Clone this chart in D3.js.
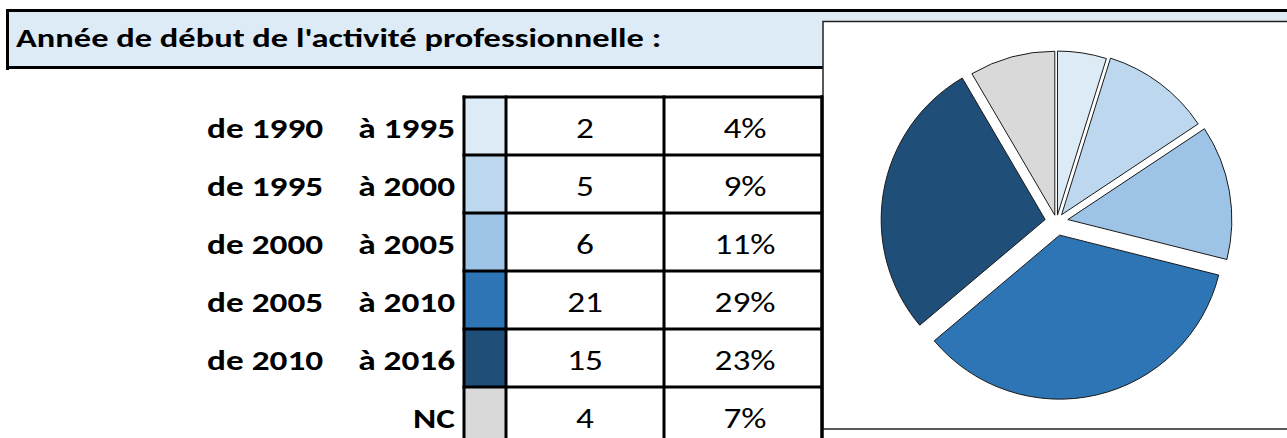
<!DOCTYPE html>
<html>
<head>
<meta charset="utf-8">
<script src="https://cdn.jsdelivr.net/npm/d3@7"></script>
<style>
body { margin: 0; background: #fff; }
svg { display: block; }
text { font-family: Carlito, Calibri, Lato, sans-serif; }
</style>
</head>
<body>
<svg id="chart" width="1287" height="438"></svg>
<script>
const title = "Année de début de l'activité professionnelle :";
const fromLabels = ["de 1990", "de 1995", "de 2000", "de 2005", "de 2010", ""];
const toLabels = ["à 1995", "à 2000", "à 2005", "à 2010", "à 2016", "NC"];
const counts = [2, 5, 6, 21, 15, 4];
const percents = [4, 9, 11, 29, 23, 7];
const colors = ["#DDEBF7", "#BDD7EE", "#9DC3E6", "#2E75B6", "#1F4E79", "#D9D9D9"];

const svg = d3.select("#chart");
const W = 1287, H = 438;
const sx = 1.26; // the sheet text is wider than the fallback font

// header band
svg.append("rect")
  .attr("x", 7.5).attr("y", 10.5)
  .attr("width", W).attr("height", 57)
  .attr("fill", "#DDEBF7");
svg.append("line")
  .attr("x1", 6).attr("x2", W).attr("y1", 10.5).attr("y2", 10.5)
  .attr("stroke", "#000").attr("stroke-width", 3);
svg.append("line")
  .attr("x1", 7.5).attr("x2", 7.5).attr("y1", 9).attr("y2", 70)
  .attr("stroke", "#000").attr("stroke-width", 3);
svg.append("line")
  .attr("x1", 6).attr("x2", 823).attr("y1", 67.5).attr("y2", 67.5)
  .attr("stroke", "#000").attr("stroke-width", 3);

svg.append("text")
  .attr("transform", `translate(16,47) scale(1.3,1)`)
  .attr("font-size", 26.5).attr("font-weight", "bold")
  .attr("fill", "#000")
  .text(title);

// table
const rows = d3.range(counts.length);
const y = d3.scaleBand().domain(rows).range([97, 97 + 58 * rows.length]);
const cols = [464, 506, 664, 822];

svg.selectAll(".swatch")
  .data(rows)
  .join("rect")
  .attr("class", "swatch")
  .attr("x", cols[0]).attr("y", d => y(d))
  .attr("width", cols[1] - cols[0]).attr("height", y.bandwidth())
  .attr("fill", d => colors[d]);

svg.selectAll(".hline")
  .data(rows)
  .join("line")
  .attr("class", "hline")
  .attr("x1", cols[0] - 1.5).attr("x2", cols[3] + 1.5)
  .attr("y1", d => y(d)).attr("y2", d => y(d))
  .attr("stroke", "#000").attr("stroke-width", 3);

svg.selectAll(".vline")
  .data(cols)
  .join("line")
  .attr("class", "vline")
  .attr("x1", d => d).attr("x2", d => d)
  .attr("y1", y(0) - 1.5).attr("y2", H)
  .attr("stroke", "#000").attr("stroke-width", 3);

const fs = 28;
function cellText(cls, xPos, anchor, weight, label) {
  svg.selectAll("." + cls)
    .data(rows)
    .join("text")
    .attr("class", cls)
    .attr("transform", d => `translate(${xPos},${y(d) + 41}) scale(${sx},1)`)
    .attr("text-anchor", anchor)
    .attr("font-size", fs).attr("font-weight", weight)
    .text(label);
}
cellText("from", 207, "start", "bold", d => fromLabels[d]);
cellText("to", 455, "end", "bold", d => toLabels[d]);
cellText("count", (cols[1] + cols[2]) / 2, "middle", "normal", d => counts[d]);
cellText("pct", (cols[2] + cols[3]) / 2 + 2, "middle", "normal", d => percents[d] + "%");

// pie box
svg.append("rect")
  .attr("x", 823).attr("y", 21.5)
  .attr("width", W).attr("height", 407.5)
  .attr("fill", "#fff")
  .attr("stroke", "#222").attr("stroke-width", 1.5);
svg.append("line")
  .attr("x1", 822).attr("x2", 822).attr("y1", y(0) - 1.5).attr("y2", H)
  .attr("stroke", "#000").attr("stroke-width", 3);

// pie
const cx = 1056.5, cy = 221.5, R = 164;
const explode = [6.5, 8.5, 11.5, 14, 11.5, 6.5];
const pie = d3.pie().sort(null).value(d => d);
const arc = d3.arc().innerRadius(0).outerRadius(R);
const arcs = pie(percents);

svg.append("g")
  .attr("transform", `translate(${cx},${cy})`)
  .selectAll("path")
  .data(arcs)
  .join("path")
  .attr("transform", (d, i) => {
    const a = (d.startAngle + d.endAngle) / 2;
    return `translate(${explode[i] * Math.sin(a)},${-explode[i] * Math.cos(a)})`;
  })
  .attr("d", arc)
  .attr("fill", (d, i) => colors[i])
  .attr("stroke", "#1a1a1a").attr("stroke-width", 1);
</script>
</body>
</html>
